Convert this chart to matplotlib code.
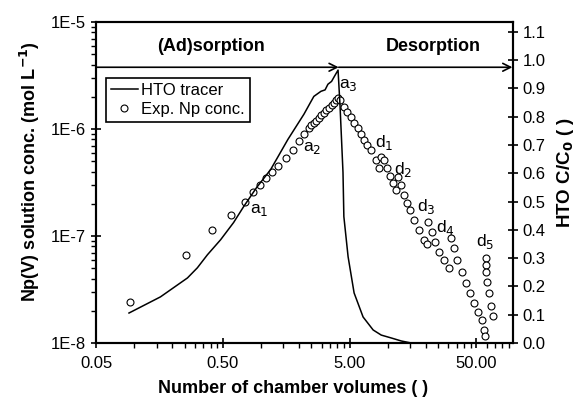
import matplotlib.pyplot as plt
from matplotlib.lines import Line2D
from matplotlib.ticker import FixedLocator, NullFormatter

plt.rcParams['font.family'] = ['Liberation Sans', 'DejaVu Sans']

# Np(V) concentration (mol/L) vs number of chamber volumes
np_x = [0.093, 0.258, 0.414, 0.575, 0.743, 0.86, 0.98, 1.09, 1.22, 1.36,
        1.57, 1.78, 1.99, 2.18, 2.39, 2.5, 2.61, 2.73, 2.86, 2.99,
        3.13, 3.28, 3.43, 3.6, 3.76, 3.9, 4.05,
        4.2, 4.5, 4.8, 5.13, 5.45, 5.83, 6.15, 6.5, 6.9, 7.38,
        8.09, 8.55, 8.87, 9.36, 9.89, 10.4, 11.0, 11.6, 12.1, 12.8,
        13.5, 14.2, 15.0, 16.2, 17.7, 19.4, 20.5, 20.9, 22.1, 23.7,
        25.5, 27.9, 30.1, 31.2, 33.0, 35.4, 38.1, 41.0, 44.1, 47.4,
        51.0, 54.9, 56.9, 58.0, 59.0, 59.0, 59.5, 60.1, 62.4, 64.7, 67.1]
np_y = [2.42e-8, 6.64e-8, 1.14e-7, 1.57e-7, 2.08e-7, 2.58e-7, 3.0e-7, 3.48e-7, 3.96e-7, 4.51e-7,
        5.36e-7, 6.37e-7, 7.73e-7, 8.98e-7, 1.02e-6, 1.08e-6, 1.14e-6, 1.2e-6, 1.27e-6, 1.34e-6,
        1.41e-6, 1.49e-6, 1.57e-6, 1.66e-6, 1.75e-6, 1.85e-6, 1.95e-6,
        1.85e-6, 1.61e-6, 1.45e-6, 1.30e-6, 1.15e-6, 1.02e-6, 9.0e-7, 7.89e-7, 7.1e-7, 6.37e-7,
        5.1e-7, 4.32e-7, 5.47e-7, 5.13e-7, 4.32e-7, 3.64e-7, 3.13e-7, 2.69e-7, 3.56e-7, 3.0e-7,
        2.42e-7, 2.03e-7, 1.75e-7, 1.41e-7, 1.14e-7, 9.18e-8, 8.42e-8, 1.35e-7, 1.09e-7, 8.79e-8,
        7.09e-8, 5.97e-8, 5.02e-8, 9.58e-8, 7.73e-8, 5.97e-8, 4.61e-8, 3.64e-8, 2.93e-8, 2.37e-8,
        1.95e-8, 1.64e-8, 1.32e-8, 1.16e-8, 6.23e-8, 5.36e-8, 4.6e-8, 3.72e-8, 2.93e-8, 2.22e-8, 1.79e-8]

# HTO tracer breakthrough (C/C0)
hto_x = [0.091, 0.161, 0.263, 0.315, 0.378, 0.48, 0.608, 0.729, 0.924, 1.19,
         1.63, 2.18, 2.45, 2.61, 2.97, 3.2, 3.37, 3.6, 3.76, 4.05,
         4.20, 4.43, 4.5, 4.86, 5.42, 6.38, 7.66, 8.87, 10.6, 12.8,
         15.3, 20.1]
hto_y = [0.106, 0.163, 0.230, 0.266, 0.312, 0.365, 0.426, 0.482, 0.55, 0.613,
         0.72, 0.809, 0.85, 0.872, 0.89, 0.895, 0.915, 0.925, 0.94, 0.965,
         0.837, 0.603, 0.447, 0.305, 0.177, 0.092, 0.046, 0.028, 0.018, 0.007,
         0.0, 0.0]

x_ticks = [0.05, 0.5, 5, 50]
x_ticklabels = ['0.05', '0.50', '5.00', '50.00']
y_ticks = [1e-8, 1e-7, 1e-6, 1e-5]
y_ticklabels = ['1E-8', '1E-7', '1E-6', '1E-5']
r_ticks = [i / 10 for i in range(12)]

labels = ['a$_1$', 'a$_2$', 'a$_3$', 'd$_1$', 'd$_2$', 'd$_3$', 'd$_4$', 'd$_5$']
label_x = [0.97, 2.55, 4.9, 9.3, 13.1, 20.0, 28.5, 59.0]
label_y = [1.75e-7, 6.6e-7, 2.6e-6, 7.5e-7, 4.2e-7, 1.9e-7, 1.2e-7, 8.8e-8]

fig = plt.figure(figsize=(5.84, 3.98), dpi=100)
ax = fig.add_axes([0.1644, 0.1382, 0.714, 0.8065])
ax2 = ax.twinx()

ax.set_xscale('log')
ax.set_yscale('log')
ax.set_xlim(0.05, 97)
ax.set_ylim(1e-8, 1e-5)

ax.plot(np_x, np_y, 'o', mfc='white', mec='black', ms=5, mew=0.8, zorder=3)
ax2.plot(hto_x, hto_y, '-', color='black', lw=1.1)
ax2.set_ylim(0, 1.135)

ax.xaxis.set_major_locator(FixedLocator(x_ticks))
ax.set_xticklabels(x_ticklabels)
minor_x = [0.05 * k * 10 ** n for n in range(3) for k in range(2, 10)] + [60, 70, 80, 90]
ax.xaxis.set_minor_locator(FixedLocator(minor_x))
ax.xaxis.set_minor_formatter(NullFormatter())
ax.yaxis.set_major_locator(FixedLocator(y_ticks))
ax.set_yticklabels(y_ticklabels)
ax.yaxis.set_minor_formatter(NullFormatter())
ax2.set_yticks(r_ticks)
ax2.set_yticklabels(['%.1f' % t for t in r_ticks])

for a in (ax, ax2):
    for s in a.spines.values():
        s.set_linewidth(1.5)
    a.tick_params(which='major', direction='inout', length=7, width=1.2, labelsize=12)
    a.tick_params(which='minor', direction='out', length=3.5, width=1.0)
ax.tick_params(axis='x', which='major', pad=6)

ax.set_xlabel('Number of chamber volumes ( )', fontsize=13, fontweight='bold')
ax.xaxis.set_label_coords(0.473, -0.115)
ax.set_ylabel('Np(V) solution conc. (mol L$^{\\mathbf{-1}}$)', fontsize=13, fontweight='bold')
ax.yaxis.set_label_coords(-0.13, 0.535)
ax2.set_ylabel('HTO C/C$_\\mathbf{0}$ ( )', fontsize=13.5, fontweight='bold')
ax2.yaxis.set_label_coords(1.10, 0.53)

# phase arrows
ax2.annotate('', xy=(4.1, 0.975), xytext=(0.05, 0.975),
             arrowprops=dict(arrowstyle='->', lw=1.2, color='black', shrinkA=0, shrinkB=0,
                             mutation_scale=14))
ax2.annotate('', xy=(96, 0.975), xytext=(4.1, 0.975),
             arrowprops=dict(arrowstyle='->', lw=1.2, color='black', shrinkA=0, shrinkB=0,
                             mutation_scale=14))
ax2.text(0.40, 1.05, '(Ad)sorption', ha='center', va='center', fontsize=13, fontweight='bold')
ax2.text(22.9, 1.05, 'Desorption', ha='center', va='center', fontsize=13, fontweight='bold')

for t, xx, yy in zip(labels, label_x, label_y):
    ax.text(xx, yy, t, ha='center', va='center', fontsize=12.5)

handles = [Line2D([], [], color='black', lw=1.1),
           Line2D([], [], ls='none', marker='o', mfc='white', mec='black', ms=5, mew=0.8)]
leg = ax2.legend(handles, ['HTO tracer', 'Exp. Np conc.'], loc='upper left',
                 bbox_to_anchor=(0.024, 0.826), borderaxespad=0, fancybox=False,
                 edgecolor='black', fontsize=12, handlelength=1.6, handletextpad=0.2,
                 borderpad=0.3, labelspacing=0.25, framealpha=1)
leg.get_frame().set_linewidth(1.2)

fig.savefig('out.png', dpi=100)
